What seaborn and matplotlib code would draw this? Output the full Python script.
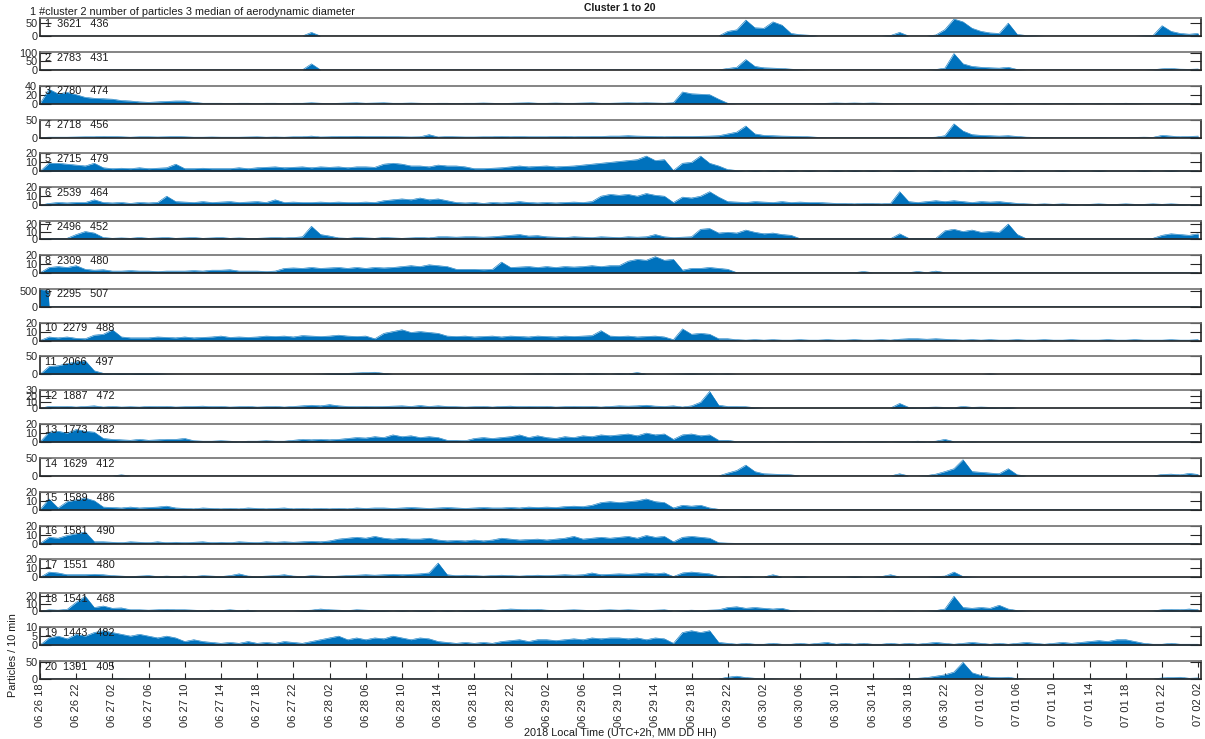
import matplotlib
matplotlib.use("Agg")
import matplotlib.pyplot as plt
import seaborn as sns

# ---------------- data (hourly samples, hours since 2018-06-26 18:00 local) ----------------
hours = list(range(0, 129))
tick_hours = list(range(0, 129, 4))
tick_labels = ["06 26 18", "06 26 22", "06 27 02", "06 27 06", "06 27 10", "06 27 14", "06 27 18", "06 27 22",
               "06 28 02", "06 28 06", "06 28 10", "06 28 14", "06 28 18", "06 28 22",
               "06 29 02", "06 29 06", "06 29 10", "06 29 14", "06 29 18", "06 29 22",
               "06 30 02", "06 30 06", "06 30 10", "06 30 14", "06 30 18", "06 30 22",
               "07 01 02", "07 01 06", "07 01 10", "07 01 14", "07 01 18", "07 01 22", "07 02 02"]

cluster_ids = list(range(1, 21))
particle_counts = [3621, 2783, 2780, 2718, 2715, 2539, 2496, 2309, 2295, 2279,
                   2066, 1887, 1773, 1629, 1589, 1581, 1551, 1541, 1443, 1391]
median_diam = [436, 431, 474, 456, 479, 464, 452, 480, 507, 488,
               497, 472, 482, 412, 486, 490, 480, 468, 482, 405]
y_max = [70, 105, 40, 50, 20, 20, 24, 20, 580, 20, 50, 30, 20, 50, 20, 20, 20, 24, 10, 52]
y_ticks = [[0, 50], [0, 50, 100], [0, 20, 40], [0, 50], [0, 10, 20], [0, 10, 20], [0, 10, 20],
           [0, 10, 20], [0, 500], [0, 10, 20], [0, 50], [0, 10, 20, 30], [0, 10, 20], [0, 50],
           [0, 10, 20], [0, 10, 20], [0, 10, 20], [0, 10, 20], [0, 5, 10], [0, 50]]

s01 = [0, 0, 0, 0, 0, 0, 0, 0, 0, 0, 0, 0, 0, 0, 0, 0,
       0, 0, 0, 0, 0, 0, 0, 0, 0, 0, 0, 0, 0, 0, 14, 0,
       0, 0, 0, 0, 0, 0, 0, 0, 0, 0, 0, 0, 0, 0, 0, 0,
       0, 0, 0, 0, 0, 0, 0, 0, 0, 0, 0, 0, 0, 0, 0, 0,
       0, 0, 0, 0, 0, 0, 0, 0, 0, 0, 0, 0, 18, 24, 62, 32,
       30, 55, 42, 10, 5, 3, 0, 0, 0, 0, 0, 0, 0, 0, 2, 14,
       0, 0, 0, 4, 25, 66, 55, 30, 18, 12, 10, 50, 6, 2, 1, 0,
       0, 0, 0, 0, 0, 0, 0, 0, 0, 0, 1, 2, 40, 18, 10, 7,
       10]
s02 = [0, 0, 0, 0, 0, 0, 0, 0, 0, 0, 0, 0, 0, 0, 0, 0,
       0, 0, 0, 0, 0, 0, 0, 0, 0, 0, 0, 0, 0, 0, 35, 0,
       0, 0, 0, 0, 0, 0, 0, 0, 0, 0, 0, 0, 0, 0, 0, 0,
       0, 0, 0, 0, 0, 0, 0, 0, 0, 0, 0, 0, 0, 0, 0, 0,
       0, 0, 0, 0, 0, 0, 0, 0, 0, 0, 0, 0, 8, 15, 60, 20,
       12, 10, 8, 4, 1, 0, 0, 0, 0, 0, 0, 0, 0, 0, 0, 0,
       0, 0, 0, 2, 10, 95, 35, 20, 15, 12, 10, 15, 2, 0, 0, 0,
       0, 0, 0, 0, 0, 0, 0, 0, 0, 0, 0, 1, 6, 8, 4, 3,
       5]
s03 = [0, 32, 22, 25, 20, 14, 12, 11, 10, 7, 6, 4, 3, 4, 5, 6,
       6, 3, 1, 1, 1, 0.5, 1, 1, 0.5, 1, 1, 0.5, 1, 1, 2, 1,
       0.5, 1, 1.5, 2, 1, 1.5, 2, 1, 1, 1.5, 1, 0.5, 1, 1, 0.5, 1,
       1, 1.5, 1, 0.5, 1, 1.5, 2, 1, 1, 1.5, 1, 1, 1.5, 2, 1, 1,
       1.5, 2, 1.5, 2, 1.5, 1, 2, 26, 22, 21, 20, 10, 1, 0, 0, 0,
       0, 0, 0, 0, 0, 0, 0.5, 1, 1.5, 1, 1.5, 1, 1.5, 1, 0.5, 0,
       0, 0, 0, 0, 0, 0, 0, 0.5, 0, 0, 0, 0.5, 0, 0, 0, 0.5,
       0, 0, 0.5, 0, 0, 0.5, 0, 0.5, 1, 0.5, 0, 0, 0, 0, 0, 0,
       0]
s04 = [0, 1, 1, 1, 1.5, 2, 2, 3, 2.5, 2, 1, 2, 2, 1.5, 2, 2.5,
       2, 1, 1, 1.5, 1, 1, 1, 1.5, 2, 1, 1.5, 1, 2, 2, 4, 1.5,
       2, 3, 3, 3.5, 3, 3, 3, 2.5, 2, 1.5, 2, 8, 1.5, 2.5, 2, 1.5,
       1.5, 2, 2, 3, 2, 2.5, 2, 2, 2, 2.5, 3, 2, 2.5, 3, 3, 4,
       4, 5, 4, 3.5, 3, 2, 3, 3, 3, 3.5, 4, 5, 10, 15, 32, 10,
       6, 5, 4, 3.5, 3, 2, 0.5, 0, 0, 0, 0, 0, 0, 0, 0, 0.5,
       0, 0, 0, 1, 5, 38, 18, 8, 6, 5, 4, 5, 3, 1, 0.5, 0.5,
       0, 0, 0, 0, 0, 0.5, 0, 0, 0, 0.5, 1, 0.5, 6, 4, 2, 3,
       4]
s05 = [0, 9, 9, 8, 7, 6, 9, 4, 3, 3.5, 3, 4, 3, 3.5, 4, 8,
       3, 3, 3.5, 3, 3, 3, 4, 3, 4, 4.5, 5, 4, 4.5, 5, 4, 5,
       4.5, 5, 4, 5, 5, 4.5, 8, 9, 8, 6, 6, 5, 7, 6, 6, 5,
       3, 3, 3.5, 4, 5, 6, 5, 5.5, 6, 5, 5.5, 6, 7, 8, 9, 10,
       11, 12, 13, 17, 12, 13, 1, 9, 10, 17, 9, 6, 2, 1, 0.5, 1,
       0.5, 1, 0.5, 1, 0.5, 1, 0.5, 0.5, 1, 0.5, 1, 0.5, 1, 0.5, 0.5, 1,
       1, 0.5, 0.5, 1, 0.5, 1, 0.5, 1, 0.5, 1, 0.5, 0.5, 1, 0.5, 0.5, 0.5,
       0.5, 1, 0.5, 0.5, 0.5, 1, 0.5, 0.5, 0.5, 0.5, 1, 0.5, 0.5, 1, 0.5, 0.5,
       0.5]
s06 = [0, 2, 3, 2.5, 3, 3, 6, 3, 2.5, 3, 2, 3, 2.5, 3, 10, 4,
       3.5, 3, 4, 3, 3.5, 4, 3, 3.5, 4, 3, 6, 3, 3.5, 3, 3, 3.5,
       3, 3.5, 3, 3, 3.5, 3, 5, 6, 7, 6, 8, 6, 7, 5, 3, 2.5,
       3, 2, 3, 2.5, 3, 4, 3, 2.5, 3, 2.5, 3, 3.5, 3, 4, 10, 12,
       11, 12, 10, 13, 11, 10, 3, 9, 8, 10, 15, 9, 4, 3.5, 3, 4,
       3.5, 3, 4, 3, 3.5, 3, 3, 2.5, 2, 2, 1.5, 2, 2, 1.5, 2, 15,
       4, 3, 4, 5, 4, 5, 4, 3, 4, 3.5, 4, 3, 2, 1.5, 1, 1.5,
       1, 1.5, 1, 0.5, 1, 1.5, 1, 1, 1.5, 1, 1, 1.5, 1, 1.5, 1, 0.5,
       1]
s07 = [0, 1, 1, 1, 6, 10, 8, 2, 1, 1.5, 1, 2, 1, 1.5, 2, 1,
       1.5, 2, 1, 1.5, 2, 1, 1.5, 1, 1, 1.5, 2, 1.5, 2, 3, 17, 6,
       4, 1.5, 1, 2, 1.5, 1, 2, 1.5, 1, 1.5, 2, 1.5, 3, 3, 2.5, 3,
       3, 2.5, 3, 4, 5, 6, 4, 4.5, 3, 2.5, 2, 3, 2.5, 2, 3, 2.5,
       2, 3, 2.5, 3, 6, 3, 2, 2.5, 3, 13, 14, 8, 9, 8, 12, 9,
       7, 8, 6, 5, 0.5, 0.5, 0.5, 0.5, 0.5, 0.5, 0.5, 0.5, 0.5, 0.5, 0.5, 7,
       1, 1, 1, 1, 11, 13, 10, 12, 9, 10, 9, 20, 6, 0.5, 0.5, 0.5,
       0.5, 0.5, 0.5, 0.5, 0.5, 0.5, 0.5, 0.5, 0.5, 0.5, 0.5, 1, 5, 7, 6, 5,
       7]
s08 = [0, 6, 7, 6, 8, 4, 3, 3.5, 2, 2, 2.5, 2, 2, 1.5, 2, 2,
       2, 2.5, 2, 3, 3, 3.5, 2, 2, 2, 1.5, 2, 5, 5.5, 5, 6, 5,
       5.5, 6, 5, 6, 5, 6, 5.5, 6, 7, 8, 7, 9, 8, 7, 4, 4,
       4, 3.5, 4, 12, 6, 6.5, 7, 6, 7, 6, 7, 6.5, 7, 8, 7, 8,
       8, 13, 15, 14, 18, 14, 15, 3, 5, 5, 6, 5, 4, 0.3, 0.3, 0.3,
       0.3, 0.3, 0.3, 0.3, 0.3, 0.3, 0.3, 0.3, 0.3, 0.3, 0.3, 1.5, 0.3, 0.3, 0.3, 0.3,
       0.3, 1.5, 0.3, 2, 0.3, 0.3, 0.3, 0.3, 0.3, 0.3, 0.3, 0.3, 0.3, 0.3, 0.3, 0.3,
       0.3, 0.3, 0.3, 0.3, 0.3, 0.3, 0.3, 0.3, 0.3, 0.3, 0.3, 0.3, 0.3, 0.3, 0.3, 0.3,
       0.3]
# cluster 9 only has particles in the first hour: sampled at its own times
s09_hours = [0, 0.5, 0.9, 1.0, 128]
s09 = [560, 540, 510, 0, 0]
s10 = [0, 4, 3, 4, 2.5, 2, 6, 7, 12, 4, 3, 3, 3, 4, 3.5, 3,
       4, 3, 3.5, 4, 5, 3.5, 4, 3.5, 4, 5, 4.5, 5, 4, 5.5, 5, 4.5,
       5, 6, 5, 4.5, 5, 2, 8, 10, 12, 9, 10, 9, 8, 5, 4.5, 5,
       4, 4.5, 5, 4, 5, 4.5, 4, 5, 4.5, 4, 5, 4.5, 5, 5.5, 11, 5,
       4.5, 5, 4, 4.5, 5, 4, 1, 13, 7, 8, 7, 2, 2, 1, 0.5, 1,
       0.5, 1, 0.5, 0.5, 1, 0.5, 0.5, 1, 0.5, 0.5, 1, 0.5, 0.5, 1, 0.5, 1.5,
       2, 2, 1.5, 2, 1.5, 1, 0.5, 1, 0.5, 1, 0.5, 0.5, 1, 0.5, 0.5, 1,
       0.5, 0.5, 1, 0.5, 0.5, 0.5, 1, 0.5, 0.5, 1, 0.5, 0.5, 0.5, 1, 0.5, 0.5,
       1]
s11 = [0, 22, 24, 30, 35, 38, 10, 3, 2, 2.5, 2, 3, 2.5, 2, 1, 0.5,
       0.3, 0.3, 0.3, 0.3, 0.3, 0.3, 0.3, 0.3, 0.3, 0.3, 0.3, 0.3, 0.3, 0.3, 0.5, 1,
       2, 2.5, 3, 4, 5, 6, 3, 0.5, 0.3, 0.3, 0.3, 0.3, 0.3, 0.3, 0.3, 0.3,
       0.3, 0.3, 0.3, 0.3, 0.3, 0.5, 1, 1.5, 1, 1.5, 2, 1.5, 1, 2, 1.5, 1,
       2, 1.5, 5, 1, 0.5, 0.5, 1, 1.5, 2, 1.5, 1.5, 1, 1.5, 0.5, 0.3, 0.3,
       0, 0, 0, 0, 0, 0, 0, 0, 0, 0, 0, 0, 0, 0, 0, 0,
       0, 0, 0, 0, 0, 0, 0, 0, 0, 1.5, 0, 0, 0, 0, 0, 0,
       0, 0, 0, 0, 0, 0, 0, 0, 0, 0, 0, 0, 0, 0, 0, 0,
       0]
s12 = [0, 3, 2.5, 3, 2, 3, 4, 2, 3, 2, 2.5, 2, 3, 2.5, 3, 2,
       2.5, 3, 3.5, 2.5, 3, 2, 2.5, 3, 2, 2.5, 3, 2, 3, 4, 5, 4,
       6, 4, 3, 2.5, 3, 2.5, 3, 3.5, 4, 3, 4.5, 3, 4, 3, 2.5, 2,
       2.5, 3, 2, 3, 3.5, 2.5, 3, 2.5, 3, 2, 2.5, 3, 2.5, 3, 2, 3,
       4, 3.5, 4, 5, 3.5, 3, 4, 2, 4, 10, 28, 5, 3, 3, 2.5, 1,
       0.5, 0.5, 0.5, 0.5, 0.5, 0.5, 0.5, 0.5, 0.5, 0.5, 0.5, 0.5, 0.5, 0.5, 0.5, 8,
       1.5, 1, 1.5, 2, 1.5, 1, 3, 1.5, 2, 1.5, 1, 1.5, 0.3, 0.3, 0.3, 0.3,
       0.3, 0.3, 0.3, 0.3, 0.3, 0.3, 0.3, 0.3, 0.3, 0.3, 0.3, 0.3, 0.3, 0.3, 0.3, 0.3,
       0.3]
s13 = [0, 11, 12, 10, 14, 12, 11, 4, 3, 2.5, 2, 3, 2, 2.5, 3, 3,
       4, 1.5, 1, 1, 1.5, 1, 0.5, 1, 1, 1.5, 1, 1, 2, 3, 2.5, 3,
       2.5, 3, 4, 5, 4.5, 6, 5, 8, 6, 7, 5, 6, 5, 2, 2, 1.5,
       4, 5, 4, 5, 6, 8, 5, 7, 5, 4, 6, 5, 7, 6, 8, 7,
       8, 9, 7, 10, 8, 9, 3, 8, 9, 7, 8, 2, 2, 0.5, 0.5, 0.5,
       0.5, 0.3, 0.5, 0.3, 0.5, 0.5, 0.3, 0.5, 0.5, 0.3, 0.5, 0.3, 0.5, 0.5, 0.3, 0.5,
       0.5, 1, 0.5, 1, 3, 0.5, 0.3, 0.5, 0.3, 0.3, 0.3, 0.3, 0.3, 0.3, 0.3, 0.3,
       0.3, 0.3, 0.3, 0.3, 0.3, 0.3, 0.3, 0.3, 0.3, 0.3, 0.3, 0.3, 0.3, 0.3, 0.3, 0.3,
       0.3]
s14 = [0, 0, 0, 0, 0, 0, 0, 0, 0, 3, 0, 0, 0, 0, 0, 0,
       0, 0, 0, 0, 0, 0, 0, 0, 0, 0, 0, 0, 0, 0, 0, 0,
       0, 0, 0, 0, 0, 0, 0, 0, 0, 0, 0, 0, 0, 0, 0, 0,
       0, 0, 0, 0, 0, 0, 0, 0, 0, 0, 0, 0, 0, 0, 0, 0,
       0, 0, 0, 0, 0, 0, 0, 0, 0, 0, 0, 0, 8, 15, 30, 12,
       6, 5, 4, 3, 0, 0, 0, 0, 0, 0, 0, 0, 0, 0, 0, 6,
       0, 0, 1, 5, 12, 20, 45, 12, 10, 8, 6, 20, 3, 0, 0, 0,
       0, 0, 0, 0, 0, 0, 0, 0, 0, 0, 0, 0, 4, 5, 3, 7,
       4]
s15 = [0, 12, 2, 9, 11, 13, 10, 3, 2.5, 2, 3, 2, 2.5, 3, 4, 2,
       1.5, 1, 2, 1.5, 1, 1.5, 1, 2, 1.5, 1, 1.5, 2, 1, 1.5, 1, 1.5,
       1, 1.5, 1, 2, 1.5, 2, 2, 1.5, 2, 2.5, 2, 1.5, 2, 2.5, 2, 1.5,
       2, 2.5, 2, 2, 2.5, 2, 3, 2.5, 3, 2.5, 3.5, 4, 3.5, 5, 8, 9,
       8, 9, 10, 12, 9, 8, 2, 5, 4, 5, 2, 0.5, 0.3, 0.2, 0.2, 0.2,
       0.2, 0.2, 0.2, 0.2, 0.2, 0.2, 0.2, 0.2, 0.2, 0.2, 0.2, 0.2, 0.2, 0.2, 0.2, 0.2,
       0.2, 0.2, 0.2, 0.2, 0.2, 0.2, 0.2, 0.2, 0.2, 0.2, 0.2, 0.2, 0.2, 0.2, 0.2, 0.2,
       0.2, 0.2, 0.2, 0.2, 0.2, 0.2, 0.2, 0.2, 0.2, 0.2, 0.2, 0.2, 0.2, 0.2, 0.2, 0.2,
       0.2]
s16 = [0, 7, 6, 9, 11, 13, 2, 2, 1.5, 1, 2, 1.5, 1, 2, 1, 1.5,
       1, 1.5, 2, 1, 1.5, 1, 2, 1.5, 1, 2, 1.5, 2, 1.5, 2, 2.5, 2,
       3, 5, 6, 7, 6, 8, 6, 5, 6, 5, 5, 6, 4, 3, 3.5, 3,
       4, 3, 4, 6, 5, 4, 4.5, 5, 4, 5, 6, 8, 5, 6, 7, 6,
       7, 8, 6, 9, 7, 8, 2, 7, 8, 7, 6, 1, 0.5, 0.3, 0.3, 0.3,
       0.3, 0.3, 0.3, 0.3, 0.3, 0.3, 0.3, 0.3, 0.3, 0.3, 0.3, 0.3, 0.3, 0.3, 0.3, 0.3,
       0.3, 0.3, 0.3, 0.3, 0.3, 0.3, 0.3, 0.3, 0.3, 0.3, 0.3, 0.3, 0.3, 0.3, 0.3, 0.3,
       0.3, 0.3, 0.3, 0.3, 0.3, 0.3, 0.3, 0.3, 0.3, 0.3, 0.3, 0.3, 0.3, 0.3, 0.3, 0.3,
       0.3]
s17 = [0, 6, 5, 3, 3, 3, 3.5, 3, 2, 1.5, 1, 1.5, 2, 1, 1.5, 1,
       1.5, 1, 2, 1.5, 1, 2, 4, 1.5, 1, 1.5, 2, 3, 1.5, 1, 2, 1.5,
       1, 1.5, 2, 2.5, 3, 2.5, 3, 3.5, 3, 3.5, 4, 5, 16, 3, 2, 2.5,
       2, 1.5, 2, 2.5, 2, 1.5, 2, 2.5, 2, 2.5, 3, 2.5, 3, 5, 3, 3.5,
       4, 3.5, 4, 5, 4, 5, 1, 5, 6, 5, 4, 1, 0.5, 0.5, 1, 0.5,
       0.5, 3, 0.5, 0.5, 1, 0.5, 0.5, 0.5, 0.5, 0.5, 1, 0.5, 0.5, 1, 3, 0.5,
       0.5, 0.5, 0.5, 1, 1.5, 6, 1, 0.5, 0.3, 0.3, 0.3, 0.3, 0.3, 0.3, 0.3, 0.3,
       0.3, 0.3, 0.3, 0.3, 0.3, 0.3, 0.3, 0.3, 0.3, 0.3, 0.3, 0.3, 0.3, 0.3, 0.3, 0.3,
       0.3]
s18 = [0, 2, 1.5, 2.5, 12, 20, 5, 7, 4, 4.5, 2, 2, 1.5, 2, 2.5, 2,
       2, 1.5, 1, 1.5, 1, 2, 1, 1.5, 0.5, 0.5, 0.5, 0.5, 0.5, 1, 1.5, 3,
       2, 1.5, 1, 2, 1.5, 1, 1, 0.5, 1, 0.5, 1, 1, 0.5, 1, 0.5, 1,
       1, 1.5, 1, 2, 3, 2.5, 2, 2.5, 1.5, 1, 1.5, 2, 1.5, 1, 1.5, 2,
       1.5, 2, 1.5, 1, 1.5, 2, 0.5, 1, 1.5, 1, 1.5, 2, 5, 6, 4, 5,
       4, 3, 4, 1, 0.5, 0.5, 0.3, 0.3, 0.3, 0.3, 0.5, 0.3, 0.3, 0.5, 0.3, 0.5,
       0.5, 0.3, 0.5, 1, 3, 20, 5, 4, 5, 4, 8, 3, 1, 0.5, 0.3, 0.3,
       0.3, 0.3, 0.3, 0.3, 0.3, 0.3, 0.3, 0.3, 0.3, 0.3, 0.3, 0.5, 2, 2.5, 2, 3,
       2]
s19 = [0, 4, 5, 3.5, 6, 5, 7, 8, 7, 6, 5, 6, 5, 4, 5, 4,
       2, 3, 2, 1.5, 1, 1.5, 1, 2, 1, 1.5, 1, 2, 1.5, 1, 2, 3,
       4, 5, 3, 4, 3, 4, 3.5, 5, 4, 3, 4, 3.5, 2, 1.5, 1, 1.5,
       1, 1.5, 1, 2, 2.5, 3, 2, 3, 3, 2.5, 3, 3.5, 3, 4, 3.5, 4,
       4, 3.5, 4, 3, 4, 3.5, 1, 7, 8, 7, 8, 1.5, 1, 0.5, 1, 0.5,
       0.5, 1, 0.5, 0.5, 1, 0.5, 1, 1.5, 0.5, 1, 0.5, 1, 0.5, 0.5, 1, 0.5,
       1, 0.5, 1, 1.5, 1, 0.5, 1, 1.5, 1, 0.5, 1, 0.5, 1, 1.5, 1, 0.5,
       1, 1.5, 1, 1.5, 2, 2.5, 2, 3, 3, 2, 1, 0.5, 0.5, 1, 0.5, 0.5,
       0.5]
s20 = [0, 0, 0, 0, 0, 0, 0, 0, 0, 0.5, 0, 0, 0, 0, 0, 0,
       0, 0, 0, 0, 0, 0, 0, 0, 0, 0, 0, 0, 0, 0, 0, 0,
       0, 0, 0, 0, 0, 0, 0, 0, 0, 0, 0, 0, 0, 0, 0, 0,
       0, 0, 0, 0, 0, 0, 0, 0, 0, 0, 0, 0, 0, 0, 0, 0,
       0, 0, 0, 0, 0, 0, 0, 0, 0, 0, 0, 0, 5, 8, 4, 2,
       1, 0.5, 0, 0, 0, 0, 0, 0, 0, 0, 0, 0, 0, 0, 0, 0.5,
       1, 2, 4, 8, 12, 20, 48, 18, 10, 5, 4, 5, 1, 0, 0, 0,
       0, 0, 0, 0, 0, 0, 0, 0, 0, 0, 0, 0, 3, 4, 5, 2,
       3]

series = [s01, s02, s03, s04, s05, s06, s07, s08, s09, s10,
          s11, s12, s13, s14, s15, s16, s17, s18, s19, s20]
series_hours = [hours] * 8 + [s09_hours] + [hours] * 11

# ---------------- styling ----------------
BLUE = "#0072BD"
DARK = "#262626"
sns.set_style("ticks")
plt.rcParams['font.family'] = ['Liberation Sans', 'DejaVu Sans']

W, H = 1205, 739
fig = plt.figure(figsize=(W / 100, H / 100), dpi=100)

left_px, width_px = 40, 1161
row_h, row_step, first_top = 18, 33.84, 18

for i in range(20):
    top = first_top + row_step * i
    ax = fig.add_axes([left_px / W, 1 - (top + row_h) / H, width_px / W, row_h / H])
    xs = series_hours[i]
    vals = series[i]
    sns.lineplot(x=xs, y=vals, ax=ax, color=BLUE, linewidth=0.4)
    ax.fill_between(xs, 0, vals, color=BLUE, linewidth=0)
    ax.set_xlim(0, 128.3)
    ax.set_ylim(0, y_max[i])
    ax.set_yticks(y_ticks[i])
    ax.set_yticklabels([str(t) for t in y_ticks[i]])
    ax.tick_params(axis='y', direction='in', length=8, width=0.8, left=True, right=True,
                   labelsize=7.8, colors=DARK, pad=2)
    ax.set_xlabel('')
    ax.set_ylabel('')
    for s in ['left', 'right', 'bottom']:
        ax.spines[s].set_color(DARK)
        ax.spines[s].set_linewidth(1.2)
    ax.spines['top'].set_color('#6f6f6f')
    ax.spines['top'].set_linewidth(1.2)
    if i == 19:
        ax.set_xticks(tick_hours)
        ax.set_xticklabels(tick_labels, rotation=90)
        ax.tick_params(axis='x', direction='in', length=4, width=0.8, top=True, bottom=True,
                       labelsize=8, colors=DARK, pad=3)
    else:
        ax.set_xticks([])
    ax.text(5 / width_px, 0.68, f"{cluster_ids[i]}  {particle_counts[i]}   {median_diam[i]}",
            transform=ax.transAxes, fontsize=7.8, ha='left', va='center', color='#1a1a1a', zorder=10)

fig.text(620 / W, 1 - 8 / H, "Cluster 1 to 20", ha='center', va='center', fontsize=7.5,
         fontweight='bold', color='#1a1a1a')
fig.text(30 / W, 1 - 12 / H, "1 #cluster 2 number of particles 3 median of aerodynamic diameter",
         ha='left', va='center', fontsize=7.8, color='#1a1a1a')
fig.text(13 / W, 1 - 655 / H, "Particles / 10 min", rotation=90, ha='center', va='center',
         fontsize=7.8, color='#1a1a1a')
fig.text(620 / W, 1 - 733 / H, "2018 Local Time (UTC+2h, MM DD HH)", ha='center', va='center',
         fontsize=7.8, color='#1a1a1a')

fig.savefig('out.png', dpi=100)
